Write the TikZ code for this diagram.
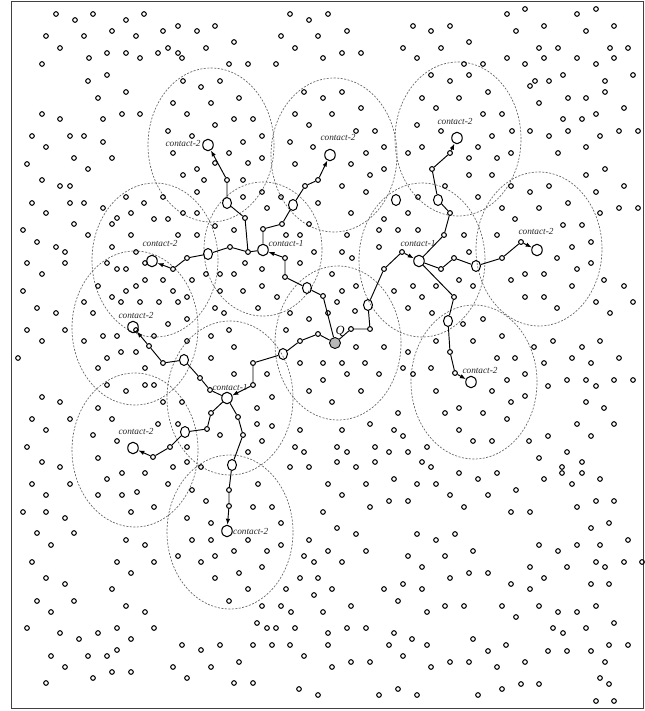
\documentclass[tikz,border=0pt]{standalone}
\usepackage{fontspec}
\setmainfont{Liberation Serif}
\usetikzlibrary{shapes.geometric,arrows.meta}
\begin{document}
\begin{tikzpicture}[x=1bp,y=-1bp,
  dot/.style={draw=black,line width=1.05bp},
  pn/.style={circle,draw,line width=1.05bp,inner sep=0pt,minimum size=4.8bp},
  relay/.style={ellipse,draw,line width=1.05bp,inner sep=0pt,minimum width=9bp,minimum height=11bp},
  contact/.style={ellipse,draw,line width=1.05bp,inner sep=0pt,minimum width=10.5bp,minimum height=11.5bp},
  qnode/.style={circle,draw,fill=black!28,line width=0.9bp,inner sep=0pt,minimum size=11bp},
  zone/.style={draw=black!62,line width=0.65bp,dash pattern=on 2bp off 1.5bp},
  link/.style={draw,line width=0.95bp},
  arr/.style={link,-{Latex[length=6bp,width=4.5bp]}},
  lbl/.style={font=\fontsize{9.3}{9.3}\selectfont\itshape,inner sep=0pt,text=black!85}
]
\useasboundingbox (0,0) rectangle (645,711);
\draw[line width=1bp,draw=black!75] (11,1.5) rectangle (643,708);

% coverage zones
\foreach \c in {(211,145),(334,155),(458,139),(539,249),(422,260),(474,382),(338,343),(155,260),(135,328),(230,398),(135,450),(230,532)}
  \draw[zone] \c ellipse [x radius=63bp, y radius=77bp];
\draw[zone] (263,249) ellipse [x radius=59bp, y radius=67bp];

% scattered nodes
\foreach \p in {
(56,14),(75,20),(93,14),(126,20),(144,14),(290,14),(309,20),
(46,36),(84,36),(112,31),(136,36),(163,31),(178,26),(197,31),(215,26),(281,36),(318,36),
(60,48),(107,53),(126,53),(140,58),(158,53),(168,48),(178,53),(182,58),(206,48),(234,42),(295,48),(89,58),
(42,64),(229,64),(248,64),(276,64),
(88,81),(107,75),(183,81),(201,87),(220,81),
(126,92),(98,98),(173,103),(211,103),(239,98),(304,92),
(42,114),(60,119),(103,119),(122,114),(140,114),(187,114),(234,119),(253,119),(295,114),(215,125),(309,125),
(32,136),(70,136),(84,136),(103,142),(168,131),(192,136),(262,136),(243,142),(290,142),(313,147),
(46,147),(173,153),(229,153),(262,158),(74,158),(112,158),(27,164),(215,163),(248,163),(295,164),
(88,169),(183,175),(197,169),(204,180),(243,180),
(42,180),(60,186),(70,186),(197,192),(262,192),(243,197),(281,197),
(32,203),(70,203),(84,203),(103,208),(126,197),(144,203),(163,197),(267,208),(318,203),
(46,213),(117,218),(112,224),(131,213),(154,219),(168,219),(183,213),(197,213),(215,226),(234,230),(309,224),
(23,230),(74,224),(88,235),(131,235),(178,235),(197,235),(286,235),(300,235)}
  \draw[dot] \p circle[radius=2.3bp];
\foreach \p in {
(328,14),(507,14),(525,9),(577,14),(596,9),
(347,31),(413,26),(431,31),(450,26),(516,31),(544,26),(586,31),(614,26),
(469,42),(403,48),(441,48),(539,48),(558,48),(610,48),(628,48),
(323,58),(342,53),(361,53),(417,58),(507,58),(525,64),(544,58),(577,58),(596,64),(614,58),(464,64),(483,64),
(431,75),(450,81),(469,75),(530,86),(535,81),(549,81),(563,75),(605,81),(633,75),
(323,98),(342,92),(422,98),(459,98),(488,92),(568,98),(586,98),(605,92),(539,103),
(361,108),(332,114),(436,108),(483,114),(502,114),(624,108),(596,114),
(417,125),(563,119),(582,119),(356,131),(375,131),(441,131),(512,131),(530,131),(568,131),(619,131),(638,131),(492,136),(549,136),(600,136),
(384,147),(408,153),(422,147),(478,147),(511,153),(586,147),(366,153),(469,158),(497,158),(558,153),
(351,164),(370,175),(384,169),(469,175),(492,175),(605,169),(586,175),
(342,186),(366,192),(445,186),(511,186),(530,192),(549,186),(596,192),(624,186),
(351,213),(408,213),(418,197),(478,197),(502,208),(539,208),(568,203),(600,213),(619,208),(638,208),
(384,219),(379,230),(398,230),(418,230),(515,219),(563,225),(582,225),(347,235),(464,235),(497,235)}
  \draw[dot] \p circle[radius=2.3bp];
\foreach \p in {
(37,242),(56,247),(65,252),(112,247),(136,252),(314,252),
(27,263),(65,263),(107,263),(117,269),(126,269),(145,263),(245,263),(262,269),(300,263),
(42,274),(98,286),(126,291),(136,286),(145,280),(163,280),(173,291),(192,280),(206,274),(220,274),(234,274),(220,291),(243,291),(262,286),(277,297),
(23,291),(37,308),(56,313),(84,302),(93,313),(112,297),(121,302),(140,302),(159,302),(178,302),(187,297),(215,308),(224,313),(258,308),(290,313),(309,319),
(27,330),(65,330),(103,336),(117,336),(136,330),(154,336),(168,324),(187,319),(211,336),(229,330),(286,330),
(42,341),(84,341),(187,341),(234,347),
(18,358),(107,358),(121,352),(136,352),(211,358),(300,363),
(98,368),(145,368),(234,374),(267,374),
(42,397),(60,402),(107,385),(126,391),(145,385),(154,385),(163,402),(182,402),(272,397),(309,391),
(32,419),(70,419),(98,408),(112,419),(257,408),
(46,430),(93,435),(117,441),(158,424),(178,424),(220,435),(257,424),(272,426),(300,430),
(27,447),(98,458),(187,447),(248,452),(262,441),(295,447),(304,452)}
  \draw[dot] \p circle[radius=2.3bp];
\foreach \p in {
(572,247),(591,242),
(342,252),(352,258),(379,247),(469,252),(557,258),(591,263),(577,269),
(332,274),(356,286),(342,291),(394,291),(413,286),(422,297),(436,286),(459,280),(473,286),(511,280),(525,274),(544,274),(572,286),(604,280),(624,286),
(337,302),(355,311),(328,313),(408,308),(432,313),(463,324),(483,319),(525,297),(544,297),(557,308),(596,302),(633,302),(610,313),
(356,347),(384,347),(408,352),(436,341),(473,341),(502,336),(534,347),(553,341),(582,347),(600,341),
(323,363),(342,363),(365,363),(403,368),(413,374),(431,368),(497,358),(515,358),(544,363),(572,358),(591,363),(619,358),
(323,380),(347,374),(379,374),(507,380),(525,374),(548,386),(567,380),(586,380),(596,386),(614,380),(633,380),
(361,391),(436,391),(492,391),(525,396),(511,402),(586,402),(604,408),
(332,402),(398,413),(445,413),(459,408),(483,413),(507,419),
(342,430),(370,424),(394,430),(403,436),(459,430),(473,441),(492,441),(529,441),(548,436),(577,424),(591,436),(614,424),
(337,447),(347,452),(375,447),(389,452),(408,452),(427,447),(539,458),(567,452)}
  \draw[dot] \p circle[radius=2.3bp];
\foreach \p in {
(42,462),(60,467),(173,467),(187,462),(201,467),(290,467),(309,467),
(32,484),(70,484),(107,479),(122,473),(145,473),(168,484),(192,490),(258,484),
(46,495),(98,495),(122,495),(137,492),(154,507),(206,501),(253,507),(272,507),
(23,512),(46,512),(65,518),(131,512),(187,518),(211,523),(281,523),
(37,533),(74,533),(51,545),(126,540),(145,545),(192,540),(211,540),(248,540),(281,545),(309,540),
(32,562),(117,562),(154,562),(178,556),(201,562),(215,556),(234,551),(267,551),(304,556),(314,562),
(46,578),(65,584),(131,573),(239,573),(262,567),(215,578),(300,578),(318,578),
(37,601),(74,601),(51,612),(112,589),(126,606),(145,612),(229,601),(248,589),(286,589),(314,595),(262,606),(281,606),(291,612),
(27,628),(60,633),(79,639),(98,633),(117,628),(131,639),(154,628),(257,623),(267,628),(276,628),(295,628),
(51,656),(88,656),(107,656),(117,650),(182,645),(201,650),(220,645),(253,645),(272,645),(290,645),(304,656),
(65,667),(112,672),(131,672),(93,678),(173,667),(211,667),(187,678),(239,662),
(46,683),(234,683),(253,683),(299,689),(318,695)}
  \draw[dot] \p circle[radius=2.3bp];
\foreach \p in {
(337,462),(356,467),(375,462),(422,462),(431,467),(459,473),(478,479),(497,473),(544,479),(562,467),(562,473),(582,462),(582,473),(600,479),
(328,484),(366,484),(394,479),(417,484),(436,484),(450,495),(488,495),(516,490),(572,484),
(342,495),(370,507),(389,501),(408,501),(464,507),(511,512),(530,512),(577,507),(596,501),(614,501),
(323,512),(337,528),(356,534),(417,534),(436,540),(455,534),(591,528),(609,523),(628,540),
(328,551),(366,551),(408,556),(445,556),(473,551),(539,545),(558,551),(577,545),(600,545),
(342,562),(422,567),(469,573),(488,573),(530,567),(567,567),(596,562),(605,567),(624,562),(642,562),
(332,589),(384,589),(403,584),(422,589),(450,578),(511,584),(530,589),(544,578),(591,584),(609,584),
(323,612),(351,606),(398,601),(427,612),(445,606),(464,606),(502,606),(516,617),(539,606),(558,612),(577,612),(596,606),
(328,633),(347,628),(366,628),(394,633),(412,639),(473,639),(553,628),(563,633),(586,628),(614,623),
(328,645),(389,645),(403,656),(427,645),(488,651),(506,645),(548,651),(567,651),(591,651),(609,645),(628,645),
(332,667),(351,662),(370,662),(431,667),(450,662),(469,662),(497,667),(525,662),(605,662),
(379,695),(398,689),(417,695),(478,695),(502,689),(521,684),(539,684),(600,678),(609,684),(596,701),(614,701)}
  \draw[dot] \p circle[radius=2.3bp];

% query node
\node[qnode] (Q) at (335,343) {};
\node[font=\fontsize{12.5}{12.5}\selectfont\itshape,inner sep=0pt] (Qlbl) at (340,331) {Q};

% path A (right)
\node[pn] (a1) at (351,329) {};
\node[pn] (a2) at (370,329) {};
\node[relay] (a3) at (368,305) {};
\node[pn] (a4) at (384,269) {};
\node[pn] (a5) at (402,252) {};
\node[contact] (C1r) at (419,261) {};
\node[lbl] (lC1r) at (418,243) {contact-1};
\node[pn] (u1) at (444,235) {};
\node[pn] (u2) at (450,213) {};
\node[relay] (u3) at (438,200) {};
\node[pn] (u4) at (432,169) {};
\node[pn] (u5) at (450,153) {};
\node[contact] (C2u) at (457,138) {};
\node[lbl] (lC2u) at (455,121) {contact-2};
\node[pn] (r1) at (441,269) {};
\node[pn] (r2) at (454,258) {};
\node[relay] (r3) at (476,266) {};
\node[pn] (r4) at (502,258) {};
\node[pn] (r5) at (521,242) {};
\node[contact] (C2r) at (537,250) {};
\node[lbl] (lC2r) at (536,231) {contact-2};
\node[pn] (d1) at (454,297) {};
\node[relay] (d2) at (448,321) {};
\node[pn] (d3) at (450,352) {};
\node[pn] (d4) at (455,373) {};
\node[contact] (C2d) at (471,382) {};
\node[lbl] (lC2d) at (480,370) {contact-2};
\node[relay] (xr) at (396,200) {};

% path B (upper left)
\node[pn] (b1) at (323,296) {};
\node[relay] (b2) at (307,288) {};
\node[pn] (b3) at (285,277) {};
\node[pn] (b4) at (285,258) {};
\node[contact] (C1u) at (263,250) {};
\node[lbl] (lC1u) at (286,243) {contact-1};
\node[pn] (v1) at (263,229) {};
\node[pn] (v2) at (282,224) {};
\node[relay] (v3) at (293,205) {};
\node[pn] (v4) at (305,186) {};
\node[pn] (v5) at (318,180) {};
\node[contact] (C2v) at (330,155) {};
\node[lbl] (lC2v) at (338,137) {contact-2};
\node[pn] (w1) at (248,252) {};
\node[pn] (w3) at (245,218) {};
\node[relay] (w4) at (227,203) {};
\node[pn] (w5) at (227,180) {};
\node[contact] (C2w) at (208,145) {};
\node[lbl] (lC2w) at (183,143) {contact-2};
\node[pn] (x1) at (230,247) {};
\node[relay] (x2) at (208,254) {};
\node[pn] (x3) at (187,258) {};
\node[pn] (x4) at (173,269) {};
\node[contact] (C2x) at (152,261) {};
\node[lbl] (lC2x) at (160,243) {contact-2};

% path C (lower left)
\node[pn] (c1) at (318,334) {};
\node[pn] (c2) at (300,341) {};
\node[relay] (c3) at (283,354) {};
\node[pn] (c4) at (253,363) {};
\node[pn] (c5) at (253,385) {};
\node[contact] (C1l) at (227,398) {};
\node[lbl] (lC1l) at (230,387) {contact-1};
\node[pn] (e1) at (210,390) {};
\node[pn] (e2) at (200,378) {};
\node[relay] (e3) at (184,360) {};
\node[pn] (e4) at (163,363) {};
\node[pn] (e5) at (149,346) {};
\node[contact] (C2e) at (133,327) {};
\node[lbl] (lC2e) at (136,315) {contact-2};
\node[pn] (f1) at (211,413) {};
\node[pn] (f2) at (207,429) {};
\node[relay] (f3) at (185,432) {};
\node[pn] (f4) at (170,447) {};
\node[pn] (f5) at (153,457) {};
\node[contact] (C2f) at (133,448) {};
\node[lbl] (lC2f) at (136,431) {contact-2};
\node[pn] (g1) at (238,417) {};
\node[pn] (g2) at (243,435) {};
\node[relay] (g3) at (232,465) {};
\node[pn] (g4) at (229,490) {};
\node[pn] (g5) at (229,506) {};
\node[contact] (C2g) at (227,531) {};
\node[lbl,anchor=west] (lC2g) at (233,531) {contact-2};

% connectors
\draw[arr] (Q) -- (a1) -- (a2) -- (a3) -- (a4) -- (a5) -- (C1r);
\draw[arr] (C1r) -- (u1) -- (u2) -- (u3) -- (u4) -- (u5) -- (C2u);
\draw[arr] (C1r) -- (r1) -- (r2) -- (r3) -- (r4) -- (r5) -- (C2r);
\draw[arr] (C1r) -- (d1) -- (d2) -- (d3) -- (d4) -- (C2d);
\draw[arr] (Q) -- (b1) -- (b2) -- (b3) -- (b4) -- (C1u);
\draw[arr] (C1u) -- (v1) -- (v2) -- (v3) -- (v4) -- (v5) -- (C2v);
\draw[arr] (C1u) -- (w1) -- (w3) -- (w4) -- (w5) -- (C2w);
\draw[arr] (w1) -- (x1) -- (x2) -- (x3) -- (x4) -- (C2x);
\draw[arr] (Q) -- (c1) -- (c2) -- (c3) -- (c4) -- (c5) -- (C1l);
\draw[arr] (C1l) -- (e1) -- (e2) -- (e3) -- (e4) -- (e5) -- (C2e);
\draw[arr] (C1l) -- (f1) -- (f2) -- (f3) -- (f4) -- (f5) -- (C2f);
\draw[arr] (C1l) -- (g1) -- (g2) -- (g3) -- (g4) -- (g5) -- (C2g);
\end{tikzpicture}
\end{document}
